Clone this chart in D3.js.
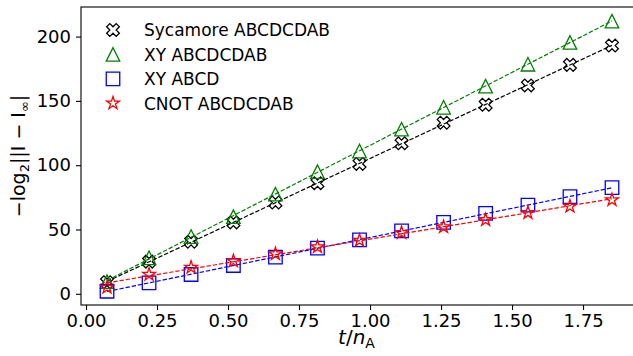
<!DOCTYPE html>
<html><head><meta charset="utf-8">
<script src="https://cdn.jsdelivr.net/npm/d3@7"></script>
<style>body{margin:0;background:#fff}svg{display:block;font-family:"DejaVu Sans",sans-serif}</style>
</head><body><svg id="c" width="633" height="356"></svg>
<script>
const xValues = [0.074, 0.222, 0.370, 0.519, 0.667, 0.815, 0.963, 1.111, 1.259, 1.407, 1.556, 1.704, 1.852];
const sycamore = [9, 25, 40.5, 55.5, 71, 86, 101, 117, 133, 147, 162, 178, 193];
const xyLong = [9.5, 28, 44.5, 60, 77.5, 95, 111, 128, 145, 161.5, 178.5, 195.5, 212];
const xyShort = [2, 8.5, 15, 22, 28.5, 35.5, 42, 49, 55.5, 62.5, 69, 75.5, 82.5];
const cnotLong = [5, 15, 20.5, 25.5, 31, 36.5, 41.5, 47.5, 52, 57.5, 63, 68, 73];
const seriesNames = ["Sycamore ABCDCDAB", "XY ABCDCDAB", "XY ABCD", "CNOT ABCDCDAB"];
const xTicks = [0, 0.25, 0.5, 0.75, 1.0, 1.25, 1.5, 1.75];
const yTicks = [0, 50, 100, 150, 200];

const series = [
  {name: seriesNames[0], ys: sycamore, color: "#000000", marker: "X"},
  {name: seriesNames[1], ys: xyLong, color: "#008000", marker: "tri"},
  {name: seriesNames[2], ys: xyShort, color: "#0000ff", marker: "sq"},
  {name: seriesNames[3], ys: cnotLong, color: "#ff0000", marker: "star"}
];

const svg = d3.select("#c");
const L = 81, R = 637, T = 7, B = 305;
const x = d3.scaleLinear().domain([-0.0176, 1.94]).range([L, R]);
const y = d3.scaleLinear().domain([-8.7, 223]).range([B, T]);
const S = 13.5;

function markerPath(type, s) {
  const h = s / 2;
  if (type === "sq") return `M${-h},${-h}H${h}V${h}H${-h}Z`;
  if (type === "tri") return `M0,${-h}L${-h},${h}L${h},${h}Z`;
  if (type === "star") {
    const pts = [];
    for (let i = 0; i < 10; i++) {
      const r = i % 2 === 0 ? h : h * 0.381966;
      const a = -Math.PI / 2 + i * Math.PI / 5;
      pts.push([r * Math.cos(a), r * Math.sin(a)]);
    }
    return "M" + pts.map(p => p.join(",")).join("L") + "Z";
  }
  const base = [[-1,-3],[1,-3],[1,-1],[3,-1],[3,1],[1,1],[1,3],[-1,3],[-1,1],[-3,1],[-3,-1],[-1,-1]];
  const c = Math.SQRT1_2;
  const pts = base.map(([a, b]) => { a = a / 6 * s; b = b / 6 * s; return [(a - b) * c, (a + b) * c]; });
  return "M" + pts.map(p => p.join(",")).join("L") + "Z";
}

function fit(xs, ys) {
  const n = xs.length, mx = d3.mean(xs), my = d3.mean(ys);
  let num = 0, den = 0;
  for (let i = 0; i < n; i++) { num += (xs[i] - mx) * (ys[i] - my); den += (xs[i] - mx) ** 2; }
  const b = num / den, a = my - b * mx;
  return [[xs[0], a + b * xs[0]], [xs[n - 1], a + b * xs[n - 1]]];
}

series.forEach(s => {
  const g = svg.append("g");
  const f = fit(xValues, s.ys);
  g.append("path").attr("d", d3.line().x(d => x(d[0])).y(d => y(d[1]))(f))
    .attr("fill", "none").attr("stroke", s.color).attr("stroke-width", 1.2)
    .attr("stroke-dasharray", "4.4,1.9");
  g.selectAll("path.m").data(xValues).join("path").attr("class", "m")
    .attr("transform", (d, i) => `translate(${x(d)},${y(s.ys[i])})`)
    .attr("d", markerPath(s.marker, S)).attr("fill", "none")
    .attr("stroke", s.color).attr("stroke-width", 1.3);
});

const xa = svg.append("g").attr("transform", `translate(0,${B})`)
  .call(d3.axisBottom(x).tickValues(xTicks).tickFormat(d3.format(".2f")).tickSize(5).tickPadding(4));
const ya = svg.append("g").attr("transform", `translate(${L},0)`)
  .call(d3.axisLeft(y).tickValues(yTicks).tickFormat(d3.format("d")).tickSize(5).tickPadding(5));
[xa, ya].forEach(a => {
  a.select(".domain").remove();
  a.selectAll("line").attr("stroke", "#000").attr("stroke-width", 1.1);
  a.selectAll("text").attr("font-size", 18).attr("fill", "#000").attr("font-family", "DejaVu Sans");
});
svg.append("rect").attr("x", L).attr("y", T).attr("width", R - L).attr("height", B - T)
  .attr("fill", "none").attr("stroke", "#000").attr("stroke-width", 1.1);

const xl = svg.append("text").attr("x", (L + 632) / 2).attr("y", 344).attr("text-anchor", "middle")
  .attr("font-size", 20).attr("fill", "#000");
xl.append("tspan").attr("font-style", "italic").text("t");
xl.append("tspan").text("/");
xl.append("tspan").attr("font-style", "italic").text("n");
xl.append("tspan").attr("font-size", 14).attr("dy", 4).text("A");

const yl = svg.append("text").attr("transform", `translate(25,${(T + B) / 2}) rotate(-90)`)
  .attr("text-anchor", "middle").attr("font-size", 19).attr("fill", "#000");
yl.append("tspan").text("−log");
yl.append("tspan").attr("font-size", 13).attr("dy", 4).text("2");
yl.append("tspan").attr("dy", -4).text("||I − I");
yl.append("tspan").attr("font-size", 13).attr("dy", 4).text("∞");
yl.append("tspan").attr("dy", -4).text("|");

const lg = svg.append("g");
series.forEach((s, i) => {
  const yy = 30 + i * 24.4;
  lg.append("path").attr("transform", `translate(113,${yy})`).attr("d", markerPath(s.marker, S))
    .attr("fill", "none").attr("stroke", s.color).attr("stroke-width", 1.3);
  lg.append("text").attr("x", 144).attr("y", yy + 6.3).attr("font-size", 17).attr("fill", "#000").text(s.name);
});
</script></body></html>
